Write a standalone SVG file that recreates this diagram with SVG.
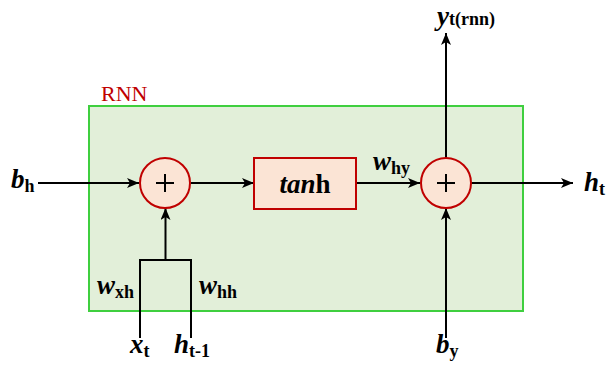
<svg xmlns="http://www.w3.org/2000/svg" width="608" height="366" viewBox="0 0 608 366">
<style>
.ln{stroke:#000;stroke-width:2;fill:none}
.op{fill:#fbe4d5;stroke:#c00000;stroke-width:2}
text{font-family:'Liberation Serif','Times New Roman','DejaVu Serif',serif}
.v{font-weight:bold;font-style:italic;font-size:27px;fill:#000}
.s{font-style:normal;font-size:18px}
.plus{stroke:#000;stroke-width:2}
</style>
<defs>
<marker id="ar" viewBox="0 0 12 10" refX="12" refY="5" markerWidth="12" markerHeight="10" markerUnits="userSpaceOnUse" orient="auto">
<path d="M0,0 L12,5 L0,10 L3,5 Z" fill="#000"/>
</marker>
</defs>
<g id="rnn-box">
<rect x="89" y="106" width="434" height="205" fill="#e2efd9" stroke="#3fcf3f" stroke-width="2"/>
<text x="101" y="101" font-size="22" fill="#c00000">RNN</text>
</g>
<g id="connectors">
<line class="ln" x1="38" y1="183" x2="139" y2="183" marker-end="url(#ar)"/>
<line class="ln" x1="191" y1="183" x2="254" y2="183" marker-end="url(#ar)"/>
<line class="ln" x1="357" y1="183" x2="420" y2="183" marker-end="url(#ar)"/>
<line class="ln" x1="471" y1="183" x2="573" y2="183" marker-end="url(#ar)"/>
<line class="ln" x1="446" y1="158" x2="446" y2="33" marker-end="url(#ar)"/>
<line class="ln" x1="446" y1="338" x2="446" y2="208" marker-end="url(#ar)"/>
<polyline class="ln" points="140,338 140,260 191,260 191,338"/>
<line class="ln" x1="165.5" y1="260" x2="165.5" y2="208" marker-end="url(#ar)"/>
</g>
<g id="sum1">
<circle class="op" cx="165" cy="183" r="25"/>
<line class="plus" x1="156" y1="183" x2="174" y2="183"/>
<line class="plus" x1="165" y1="174" x2="165" y2="192"/>
</g>
<g id="tanh">
<rect class="op" x="254" y="158" width="102" height="51"/>
<text class="v" x="305" y="193" text-anchor="middle">tan<tspan font-style="normal">h</tspan></text>
</g>
<g id="sum2">
<circle class="op" cx="446" cy="183" r="25"/>
<line class="plus" x1="437" y1="183" x2="455" y2="183"/>
<line class="plus" x1="446" y1="174" x2="446" y2="192"/>
</g>
<g id="labels">
<text class="v" x="11" y="188">b<tspan class="s" dy="4">h</tspan></text>
<text class="v" x="373" y="170">w<tspan class="s" dy="4">hy</tspan></text>
<text class="v" x="584" y="191">h<tspan class="s" dy="4">t</tspan></text>
<text class="v" x="437" y="25">y<tspan class="s">t(rnn)</tspan></text>
<text class="v" x="97" y="294">w<tspan class="s" dy="4">xh</tspan></text>
<text class="v" x="199" y="294">w<tspan class="s" dy="4">hh</tspan></text>
<text class="v" x="130" y="353">x<tspan class="s" dy="4">t</tspan></text>
<text class="v" x="174" y="353">h<tspan class="s" dy="4">t-1</tspan></text>
<text class="v" x="436" y="353">b<tspan class="s" dy="4">y</tspan></text>
</g>
</svg>
